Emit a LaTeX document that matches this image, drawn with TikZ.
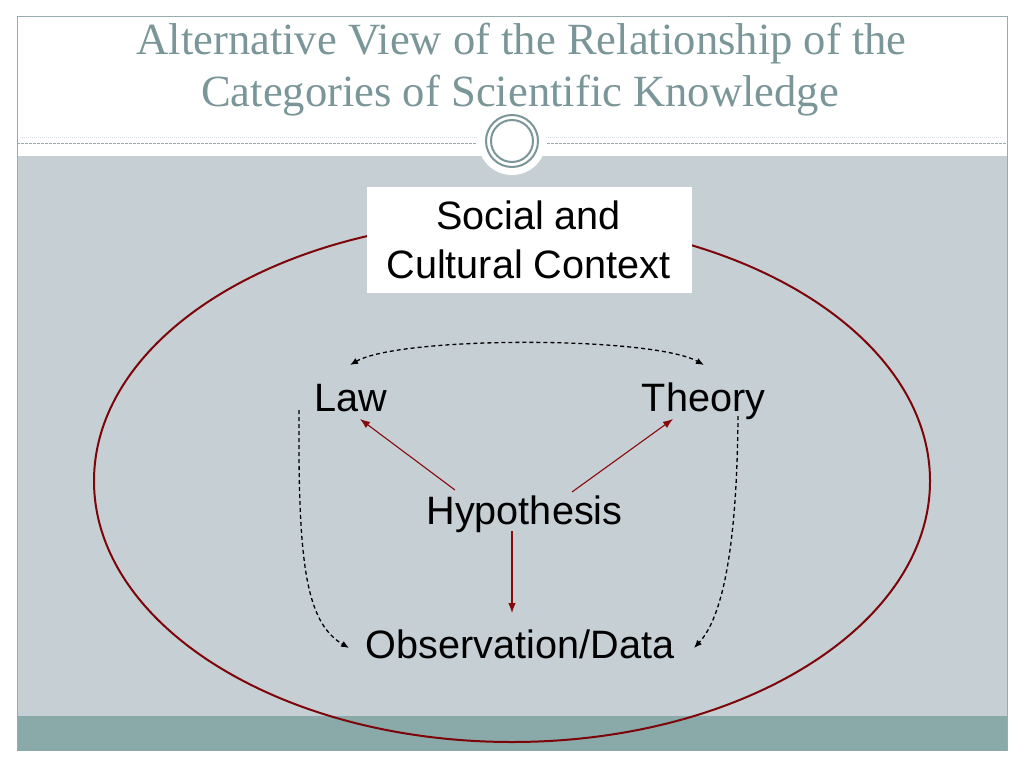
\documentclass[tikz,border=0pt]{standalone}
\usepackage{fontspec}
\setmainfont{Liberation Serif}
\newfontfamily\arialf{Liberation Sans}
\usetikzlibrary{arrows.meta}
\definecolor{titlecol}{RGB}{122,150,152}
\definecolor{panel}{RGB}{197,207,212}
\definecolor{bandcol}{RGB}{138,170,170}
\definecolor{framecol}{RGB}{150,172,175}
\definecolor{ellred}{RGB}{125,5,10}
\definecolor{arrred}{RGB}{135,10,10}
\begin{document}
\begin{tikzpicture}[x=1pt,y=-1pt,
  lbl/.style={font=\arialf\fontsize{39.6}{47}\selectfont, inner sep=0pt, anchor=base, text=black},
  ttl/.style={font=\fontsize{44.6}{50}\selectfont, inner sep=0pt, anchor=base, text=titlecol},
  redarr/.style={draw=arrred, line width=1.1pt, -{Latex[length=10pt,width=7.5pt]}},
  dasharr/.style={draw=black, line width=1.3pt, dash pattern=on 4pt off 3pt},
  dhead/.style={-{Latex[length=8pt,width=6.5pt]}},
  ]
\useasboundingbox (0,0) rectangle (1024,768);
\fill[white] (0,0) rectangle (1024,768);
% panels
\fill[panel] (17,156) rectangle (1007,716);
\fill[bandcol] (17,716) rectangle (1007,751);
\draw[framecol, line width=1pt] (17,751) -- (17,17) -- (1007,17) -- (1007,751);
% header lines
\draw[framecol!35, line width=0.5pt, dash pattern=on 1pt off 1pt] (20,137) -- (1004,137);
\draw[framecol, line width=1pt, dash pattern=on 2.5pt off 1.5pt] (17,143) -- (476,143);
\draw[framecol, line width=1pt, dash pattern=on 2.5pt off 1.5pt] (547,143) -- (1007,143);
% ornament
\fill[white] (512,141) circle [radius=34pt];
\draw[titlecol, line width=2pt] (512,141) circle [radius=26pt];
\draw[titlecol, line width=2pt] (512,141) circle [radius=21pt];
% title
\node[ttl] (title1) at (521.5,55) {Alternative View of the Relationship of the};
\node[ttl] (title2) at (520,106) {Categories of Scientific Knowledge};
% ellipse
\draw[ellred, line width=2pt] (512,481) ellipse [x radius=418pt, y radius=261pt];
% context box
\node[fill=white, minimum width=325pt, minimum height=106pt, inner sep=0pt] (ctxbox) at (529.5,240) {};
\node[lbl] (ctx1) at (528.5,229) {Social and};
\node[lbl] (ctx2) at (528.5,278) {Cultural Context};
% labels
\node[lbl] (law) at (350.5,411) {Law};
\node[lbl] (theory) at (703.5,411) {Theory};
\node[lbl] (hyp) at (524.5,524) {Hypothesis};
\node[lbl] (obs) at (520,658) {Observation/Data};
% connector end points
\coordinate (lawin) at (360,419);
\coordinate (thin) at (673,419);
\coordinate (hypL) at (455,490);
\coordinate (hypR) at (572,492);
\coordinate (hypB) at (512,531);
\coordinate (obsT) at (512,613);
\coordinate (lawTop) at (350,365);
\coordinate (thTop) at (704,365);
\coordinate (lawBot) at (299,410);
\coordinate (thBot) at (738,416);
\coordinate (obsL) at (349,648);
\coordinate (obsR) at (694,648);
% red arrows
\draw[redarr] (hypL) -- (lawin);
\draw[redarr] (hypR) -- (thin);
\draw[redarr] (hypB) -- (obsT);
% dashed arrows
\draw[dasharr, {Latex[length=8pt,width=6.5pt]}-{Latex[length=8pt,width=6.5pt]}] (lawTop) .. controls (400,336) and (652,336) .. (thTop);
\draw[dasharr, dhead] (lawBot) .. controls (298,560) and (305,622) .. (obsL);
\draw[dasharr, dhead] (thBot) .. controls (737,550) and (722,618) .. (obsR);
\end{tikzpicture}
\end{document}
